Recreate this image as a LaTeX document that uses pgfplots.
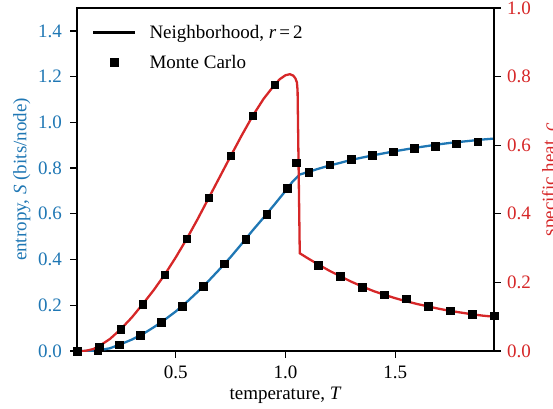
\documentclass[border=0pt]{standalone}
\usepackage{fontspec}
\setmainfont{Liberation Serif}
\usepackage{pgfplots}
\pgfplotsset{compat=1.18}
\definecolor{tabblue}{HTML}{1F77B4}
\definecolor{tabred}{HTML}{D62728}

\pgfplotstableread{
T S
0.05 0
0.10 0
0.13 0.001
0.15 0.003
0.20 0.012
0.25 0.030
0.30 0.050
0.35 0.074
0.40 0.104
0.45 0.137
0.50 0.173
0.55 0.214
0.60 0.259
0.65 0.307
0.70 0.358
0.75 0.411
0.80 0.468
0.85 0.527
0.90 0.583
0.95 0.641
1.00 0.700
1.03 0.738
1.065 0.772
1.08 0.776
1.10 0.782
1.15 0.797
1.20 0.811
1.25 0.823
1.30 0.836
1.35 0.846
1.40 0.856
1.45 0.865
1.50 0.874
1.55 0.882
1.60 0.890
1.65 0.897
1.70 0.904
1.75 0.910
1.80 0.915
1.85 0.920
1.90 0.925
1.95 0.929
}\entropycurve

\pgfplotstableread{
T S
0.048 0.0
0.145 0.002
0.241 0.028
0.337 0.068
0.433 0.126
0.530 0.196
0.626 0.284
0.722 0.381
0.818 0.489
0.914 0.598
1.009 0.712
1.105 0.782
1.201 0.814
1.298 0.838
1.394 0.855
1.490 0.871
1.586 0.886
1.683 0.896
1.779 0.906
1.875 0.916
}\entropymc

\pgfplotstableread{
T c
0.05 0.0
0.08 0.0
0.10 0.002
0.125 0.006
0.15 0.014
0.20 0.035
0.25 0.064
0.30 0.098
0.35 0.137
0.40 0.178
0.45 0.223
0.50 0.273
0.55 0.327
0.60 0.385
0.65 0.446
0.70 0.507
0.75 0.568
0.80 0.628
0.85 0.685
0.90 0.735
0.95 0.776
0.975 0.793
1.00 0.804
1.02 0.807
1.035 0.803
1.045 0.795
1.052 0.783
1.055 0.760
1.065 0.285
1.10 0.271
1.15 0.252
1.20 0.234
1.25 0.218
1.30 0.202
1.35 0.188
1.40 0.175
1.45 0.164
1.50 0.154
1.55 0.145
1.60 0.137
1.65 0.130
1.70 0.123
1.75 0.117
1.80 0.112
1.85 0.107
1.90 0.103
1.95 0.100
}\heatcurve

\pgfplotstableread{
T c
0.05 0.0
0.15 0.0125
0.25 0.064
0.35 0.136
0.45 0.222
0.55 0.328
0.65 0.447
0.75 0.569
0.85 0.686
0.95 0.776
1.05 0.549
1.15 0.251
1.25 0.218
1.35 0.186
1.45 0.164
1.55 0.152
1.65 0.131
1.75 0.117
1.85 0.107
1.95 0.103
}\heatmc

\begin{document}
\begin{tikzpicture}
\pgfplotsset{
  every axis/.append style={
    font=\fontsize{19}{22}\selectfont,
    scale only axis, width=417pt, height=343pt,
    xmin=0.05, xmax=1.95,
    tick align=outside,
    major tick length=6.5pt,
    every tick/.style={black, line width=1.3pt},
    axis line style={line width=1.4pt},
    /pgf/number format/assume math mode=true,
    /pgf/number format/.cd, fixed, fixed zerofill, precision=1,
  },
}
\begin{axis}[
  name=main,
  ymin=0, ymax=1.5,
  xtick={0.5,1.0,1.5},
  ytick={0,0.2,0.4,0.6,0.8,1.0,1.2,1.4},
  xtick pos=bottom, ytick pos=left,
  yticklabel style={text=tabblue, xshift=-5pt},
  xticklabel style={yshift=-5pt},
  xlabel={temperature, \textit{T}},
  ylabel={entropy, \textit{S} (bits/node)},
  every axis y label/.style={at={(axis description cs:-0.1535,0.5)}, rotate=90, anchor=north, inner sep=0pt, text=tabblue},
  every axis x label/.style={at={(axis description cs:0.5,0)}, anchor=base, yshift=-48pt, inner sep=0pt},
  legend style={at={(axis description cs:0,1)}, anchor=north west, draw=none, fill=none,
    xshift=12pt, yshift=-13pt, row sep=11pt, column sep=11pt},
  legend cell align=left,
  legend image code/.code={\draw[mark repeat=2,mark phase=2,#1] plot coordinates {(0pt,0pt) (21pt,0pt) (42pt,0pt)};},
]
\addlegendimage{black, line width=2.3pt}
\addlegendentry{Neighborhood, \textit{r}\,=\,2}
\addlegendimage{only marks, mark=square*, black, mark size=3.8pt}
\addlegendentry{Monte Carlo}
\addplot[tabblue, line width=2.3pt, forget plot] table[x=T, y=S] {\entropycurve};
\addplot[only marks, mark=square*, black, mark size=3.8pt, forget plot] table[x=T, y=S] {\entropymc};
\end{axis}
\begin{axis}[
  ymin=0, ymax=1,
  axis x line=none,
  axis y line*=right,
  ytick={0,0.2,0.4,0.6,0.8,1.0},
  yticklabel style={text=tabred, xshift=3pt},
  ylabel={specific heat, \textit{c}},
  every axis y label/.style={at={(axis description cs:1.1144,0.5)}, rotate=90, anchor=north, inner sep=0pt, text=tabred},
]
\addplot[tabred, line width=2.3pt] table[x=T, y=c] {\heatcurve};
\addplot[only marks, mark=square*, black, mark size=3.8pt] table[x=T, y=c] {\heatmc};
\end{axis}
\pgfresetboundingbox
\path[use as bounding box] ([xshift=-77pt,yshift=-57pt]main.south west) rectangle ([xshift=59pt,yshift=8pt]main.north east);
\end{tikzpicture}
\end{document}
